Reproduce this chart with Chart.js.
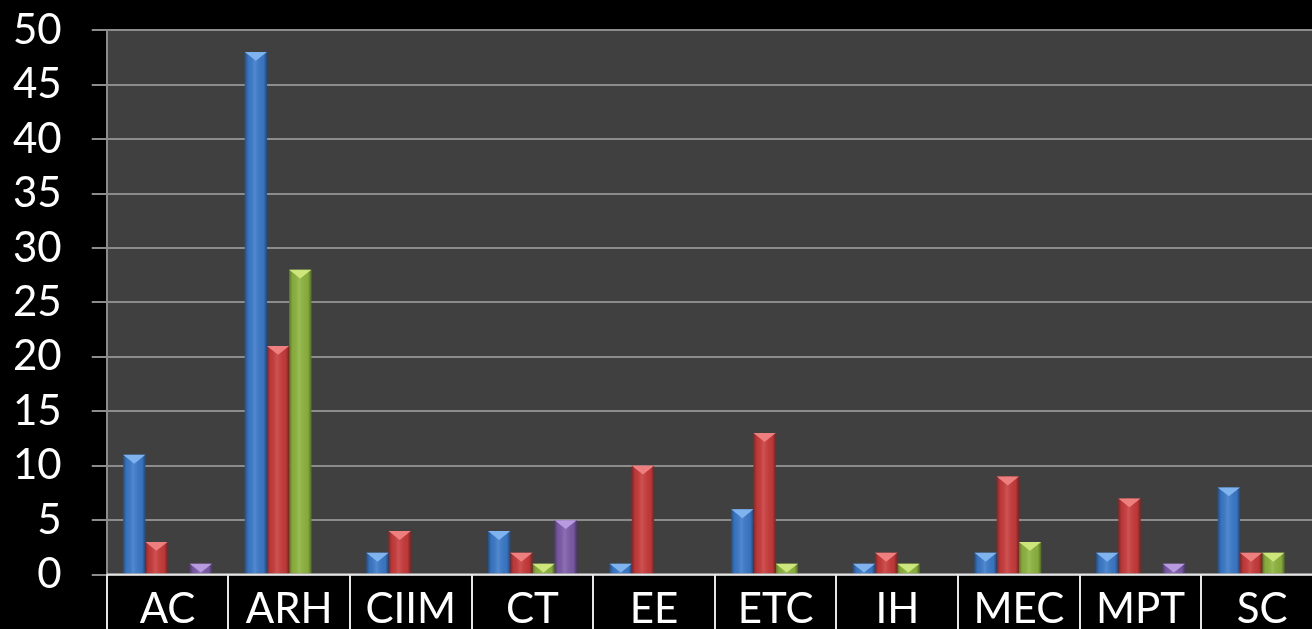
<!DOCTYPE html>
<html>
<head>
<meta charset="utf-8">
<script src="https://cdn.jsdelivr.net/npm/chart.js@4/dist/chart.umd.min.js"></script>
<style>
  html, body { margin: 0; padding: 0; background: #000; overflow: hidden; }
  #wrap { width: 1340px; height: 662px; position: relative; margin-top: -25px; margin-left: -17px; }
</style>
</head>
<body>
<div id="wrap"><canvas id="barChart"></canvas></div>
<script>
// ---- data ----
const categories = ['AC', 'ARH', 'CIIM', 'CT', 'EE', 'ETC', 'IH', 'MEC', 'MPT', 'SC'];
const blueValues   = [11, 48, 2, 4, 1, 6, 1, 2, 2, 8];
const redValues    = [3, 21, 4, 2, 10, 13, 2, 9, 7, 2];
const greenValues  = [0, 28, 0, 1, 0, 1, 1, 3, 0, 2];
const purpleValues = [1, 0, 0, 5, 0, 0, 0, 0, 1, 0];
const yTicks = [0, 5, 10, 15, 20, 25, 30, 35, 40, 45, 50];

const colors = ['#3a79c9', '#c83a3a', '#8db43e', '#7d5ba9'];
const tops   = ['#7fb3ee', '#ee7f7f', '#cde67c', '#b79ae0'];

// plot background + category separators below the axis
const frame = {
  id: 'frame',
  beforeDraw(chart) {
    const a = chart.chartArea, c = chart.ctx;
    c.save();
    c.fillStyle = '#404040';
    c.fillRect(a.left, a.top, a.right - a.left, a.bottom - a.top);
    c.restore();
  },
  afterDraw(chart) {
    const a = chart.chartArea, c = chart.ctx, x = chart.scales.x;
    const step = (x.right - x.left) / categories.length;
    c.save();
    c.strokeStyle = '#e6e6e6';
    c.lineWidth = 2;
    c.beginPath();
    c.moveTo(a.left, a.bottom);
    c.lineTo(x.right, a.bottom);
    for (let i = 0; i <= categories.length; i++) {
      const px = Math.round(x.left + i * step);
      c.moveTo(px, a.bottom);
      c.lineTo(px, chart.height);
    }
    c.stroke();
    c.restore();
  }
};

// bevel look on each bar
const bevel = {
  id: 'bevel',
  afterDatasetsDraw(chart) {
    const c = chart.ctx;
    chart.data.datasets.forEach((ds, di) => {
      chart.getDatasetMeta(di).data.forEach((bar, i) => {
        if (!ds.data[i]) return;
        const l = bar.x - bar.width / 2, r = bar.x + bar.width / 2;
        const t = bar.y, b = bar.base, w = bar.width;
        c.save();
        const g = c.createLinearGradient(l, 0, r, 0);
        g.addColorStop(0, 'rgba(0,0,0,0.35)');
        g.addColorStop(0.15, 'rgba(0,0,0,0.05)');
        g.addColorStop(0.45, 'rgba(255,255,255,0.12)');
        g.addColorStop(0.85, 'rgba(0,0,0,0.05)');
        g.addColorStop(1, 'rgba(0,0,0,0.4)');
        c.fillStyle = g;
        c.fillRect(l, t, w, b - t);
        const h = Math.min(w * 0.4, b - t);
        c.fillStyle = tops[di];
        c.beginPath();
        c.moveTo(l, t);
        c.lineTo(r, t);
        if (h < w * 0.4) {
          const k = h / (w * 0.4) * (w / 2);
          c.lineTo(r - k, t + h);
          c.lineTo(l + k, t + h);
        } else {
          c.lineTo(bar.x, t + h);
        }
        c.closePath();
        c.fill();
        c.restore();
      });
    });
  }
};

new Chart(document.getElementById('barChart'), {
  type: 'bar',
  data: {
    labels: categories,
    datasets: [
      { label: 'Series 1', data: blueValues,   backgroundColor: colors[0] },
      { label: 'Series 2', data: redValues,    backgroundColor: colors[1] },
      { label: 'Series 3', data: greenValues,  backgroundColor: colors[2] },
      { label: 'Series 4', data: purpleValues, backgroundColor: colors[3] }
    ]
  },
  options: {
    responsive: true,
    maintainAspectRatio: false,
    animation: false,
    layout: { padding: 0 },
    datasets: { bar: { categoryPercentage: 0.73, barPercentage: 1.0, borderWidth: 0 } },
    plugins: { legend: { display: false }, tooltip: { enabled: false } },
    scales: {
      x: {
        grid: { display: false },
        border: { display: false },
        ticks: { color: '#ffffff', font: { family: 'Lato', size: 42 }, padding: 2, maxRotation: 0, autoSkip: false }
      },
      y: {
        min: 0,
        max: 50,
        afterBuildTicks(axis) { axis.ticks = yTicks.map(v => ({ value: v })); },
        grid: { color: '#8c8c8c', lineWidth: 2, tickLength: 15 },
        border: { color: '#8c8c8c', width: 2 },
        ticks: { color: '#ffffff', font: { family: 'Lato', size: 42 }, padding: 30, autoSkip: false }
      }
    }
  },
  plugins: [frame, bevel]
});
</script>
</body>
</html>
